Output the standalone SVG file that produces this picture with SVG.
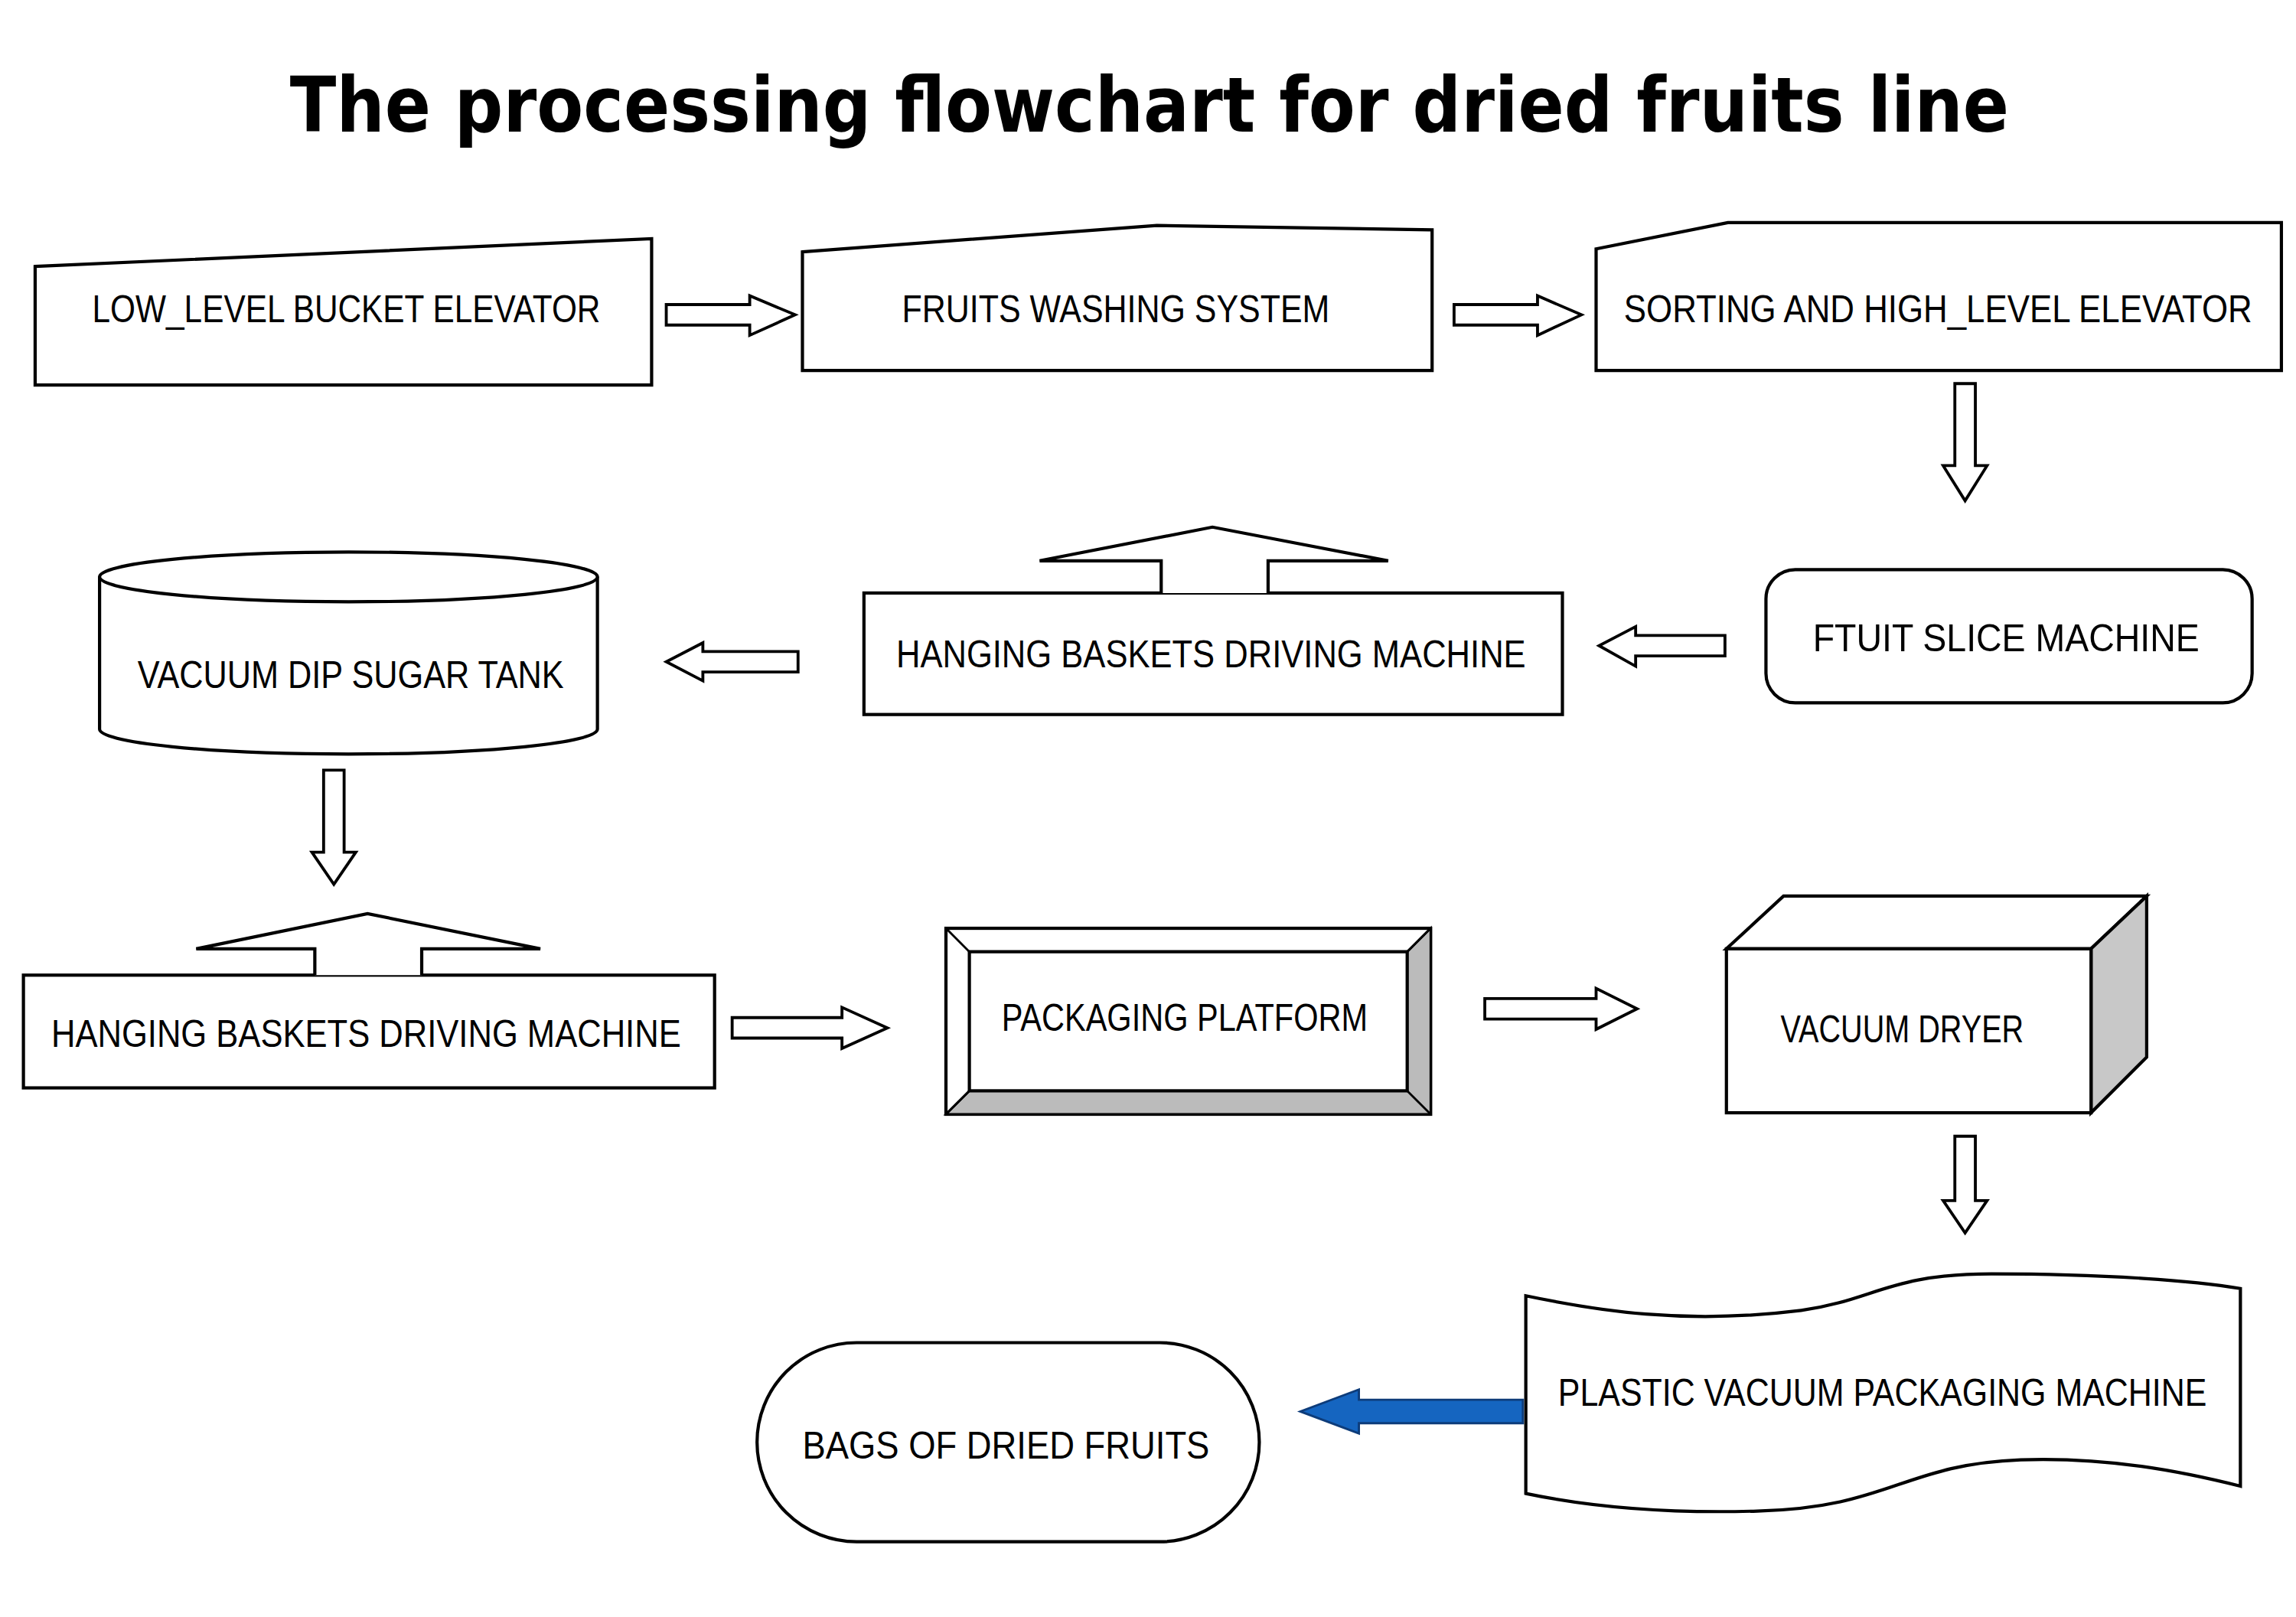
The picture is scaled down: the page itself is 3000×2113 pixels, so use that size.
<svg xmlns="http://www.w3.org/2000/svg" width="3000" height="2113" viewBox="0 0 3000 2113">
<style>
.s{fill:#fff;stroke:#000;stroke-width:2.2}
.a{fill:#fff;stroke:#000;stroke-width:2}
.t{font-family:"Liberation Sans",Arial,sans-serif;font-size:26px;fill:#000}
.h{font-family:"DejaVu Sans",sans-serif;font-weight:bold;font-size:52px;fill:#000}
</style>
<rect width="3000" height="2113" fill="#fff"/>
<g transform="scale(1.9133)">
<text class="h" x="198" y="90" textLength="1174" lengthAdjust="spacingAndGlyphs">The processing flowchart for dried fruits line</text>
<g id="connectors">
<polygon class="a" points="455,208 512,208 512,202 543,215 512,229 512,222 455,222"/>
<polygon class="a" points="993,208 1050,208 1050,202 1080,215 1050,229 1050,222 993,222"/>
<polygon class="a" points="1335,262 1349,262 1349,318 1357,318 1342,342 1327,318 1335,318"/>
<polygon class="a" points="1178,434 1117,434 1117,428 1092,441 1117,455 1117,448 1178,448"/>
<polygon class="a" points="545,445 480,445 480,439 455,452 480,465 480,459 545,459"/>
<polygon class="a" points="221,526 235,526 235,582 243,582 228,604 213,582 221,582"/>
<polygon class="a" points="500,695 575,695 575,688 606,702 575,716 575,709 500,709"/>
<polygon class="a" points="1014,682 1090,682 1090,675 1118,689 1090,703 1090,696 1014,696"/>
<polygon class="a" points="1335,776 1349,776 1349,820 1357,820 1342,842 1327,820 1335,820"/>
<polygon fill="#1565c0" stroke="#0d3c7a" stroke-width="1.5" points="1040,956 928,956 928,949 888,964 928,979 928,972 1040,972"/>
</g>
<g id="n1"><polygon class="s" points="24,182 445,163 445,263 24,263"/><text class="t" x="63" y="220" textLength="347" lengthAdjust="spacingAndGlyphs">LOW_LEVEL BUCKET ELEVATOR</text></g>
<g id="n2"><polygon class="s" points="548,172 790,154 978,157 978,253 548,253"/><text class="t" x="616" y="220" textLength="292" lengthAdjust="spacingAndGlyphs">FRUITS WASHING SYSTEM</text></g>
<g id="n3"><polygon class="s" points="1090,170 1180,152 1558,152 1558,253 1090,253"/><text class="t" x="1109" y="220" textLength="429" lengthAdjust="spacingAndGlyphs">SORTING AND HIGH_LEVEL ELEVATOR</text></g>
<g id="n4"><rect class="s" x="1206" y="389" width="332" height="91" rx="20"/><text class="t" x="1238" y="445" textLength="264" lengthAdjust="spacingAndGlyphs">FTUIT SLICE MACHINE</text></g>
<g id="n5"><rect class="s" x="590" y="405" width="477" height="83"/><polyline class="s" points="793,405 793,383 710,383 828,360 948,383 866,383 866,405"/><text class="t" x="612" y="456" textLength="430" lengthAdjust="spacingAndGlyphs">HANGING BASKETS DRIVING MACHINE</text></g>
<g id="n6"><path class="s" d="M68,394 L68,498 A170,17 0 0 0 408,498 L408,394"/><ellipse class="s" cx="238" cy="394" rx="170" ry="17"/><text class="t" x="94" y="470" textLength="291" lengthAdjust="spacingAndGlyphs">VACUUM DIP SUGAR TANK</text></g>
<g id="n7"><rect class="s" x="16" y="666" width="472" height="77"/><polyline class="s" points="215,666 215,648 134,648 251,624 369,648 288,648 288,666"/><text class="t" x="35" y="715" textLength="430" lengthAdjust="spacingAndGlyphs">HANGING BASKETS DRIVING MACHINE</text></g>
<g id="n8"><rect class="s" x="646" y="634" width="331" height="127"/><polygon fill="#bbb" stroke="#000" stroke-width="1.5" points="977,634 961,650 961,745 662,745 646,761 977,761"/><rect class="s" x="662" y="650" width="299" height="95"/><line x1="646" y1="634" x2="662" y2="650" stroke="#000" stroke-width="1.5"/><line x1="977" y1="634" x2="961" y2="650" stroke="#000" stroke-width="1.5"/><line x1="646" y1="761" x2="662" y2="745" stroke="#000" stroke-width="1.5"/><line x1="977" y1="761" x2="961" y2="745" stroke="#000" stroke-width="1.5"/><text class="t" x="684" y="704" textLength="250" lengthAdjust="spacingAndGlyphs">PACKAGING PLATFORM</text></g>
<g id="n9"><polygon class="s" points="1179,648 1218,612 1466,612 1428,648"/><polygon fill="#c8c8c8" stroke="#000" stroke-width="2.2" points="1428,648 1466,612 1466,722 1428,760"/><rect class="s" x="1179" y="648" width="249" height="112"/><text class="t" x="1216" y="712" textLength="166" lengthAdjust="spacingAndGlyphs">VACUUM DRYER</text></g>
<g id="n10"><path class="s" d="M1042,885 C1090,895 1150,905 1230,895 C1280,888 1290,870 1360,870 C1440,870 1500,875 1530,880 L1530,1015 C1490,1005 1440,995 1380,997 C1300,1000 1290,1030 1200,1032 C1130,1034 1080,1028 1042,1020 Z"/><text class="t" x="1064" y="960" textLength="443" lengthAdjust="spacingAndGlyphs">PLASTIC VACUUM PACKAGING MACHINE</text></g>
<g id="n11"><rect class="s" x="517" y="917" width="343" height="136" rx="68"/><text class="t" x="548" y="996" textLength="278" lengthAdjust="spacingAndGlyphs">BAGS OF DRIED FRUITS</text></g>
</g>
</svg>
